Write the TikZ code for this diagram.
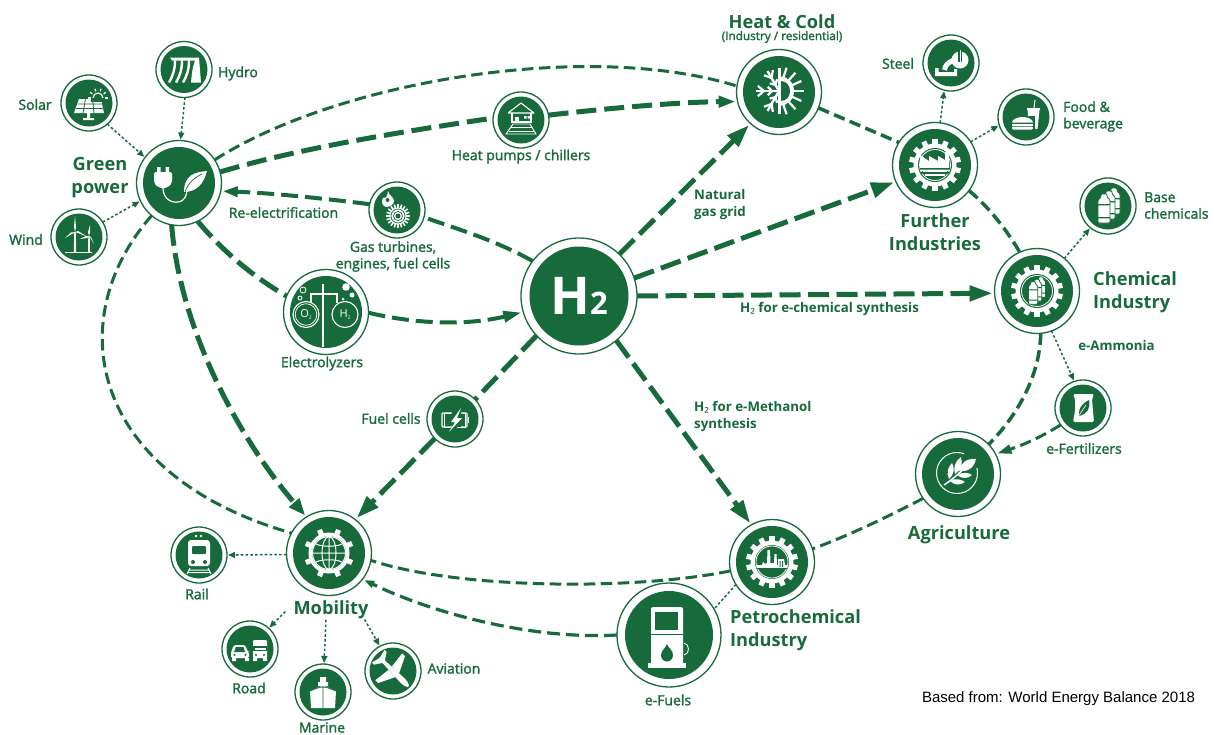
\documentclass[tikz,border=0pt]{standalone}
\usepackage{fontspec}
\usetikzlibrary{arrows.meta}
\setmainfont{Open Sans}
\newfontfamily\lblfont[FakeBold=1.8]{Open Sans}
\newfontfamily\subfont{Noto Sans}
\newfontfamily\arialfont{Liberation Sans}
\definecolor{gn}{HTML}{176A3A}
\tikzset{
  ringbig/.style={circle,draw=gn,line width=1.3pt,fill=white,minimum size=85pt,inner sep=0pt,outer sep=0pt},
  ringsmall/.style={circle,draw=gn,line width=1.3pt,fill=white,minimum size=56pt,inner sep=0pt,outer sep=0pt},
  discbig/.style={circle,fill=gn,minimum size=72pt,inner sep=0pt},
  discsmall/.style={circle,fill=gn,minimum size=47pt,inner sep=0pt},
  small text/.style={text=gn,font=\lblfont\fontsize{14}{16.5}\selectfont,align=left,inner sep=0pt},
  mid text/.style={text=gn,font=\bfseries\fontsize{13.3}{17}\selectfont,align=left,inner sep=0pt},
  big text/.style={text=gn,font=\bfseries\fontsize{18.2}{23}\selectfont,inner sep=0pt},
  wide line/.style={draw=gn,line width=5pt,dash pattern=on 21pt off 7.5pt},
  medium wide/.style={draw=gn,line width=4pt,dash pattern=on 17pt off 7pt},
  thin line/.style={draw=gn,line width=3pt,dash pattern=on 11.5pt off 5.5pt},
  dot line/.style={draw=gn,line width=1.5pt,dash pattern=on 2.6pt off 2.2pt},
  big tip/.style={-{Triangle[length=23pt,width=15pt]},shorten >=2pt},
  low tip/.style={-{Triangle[length=10pt,width=7pt]},shorten >=2pt},
  dot tip/.style={-{Triangle[length=7pt,width=6pt]},shorten >=1pt},
  wl/.style={draw=white,line width=1.2pt},
  gl/.style={draw=gn,line width=1pt}
}
\newcommand\hubnode[3]{\node[ringbig] (#1) at (#2) {};\node[discbig] at (#1) {#3};}
\newcommand\subnode[3]{\node[ringsmall] (#1) at (#2) {};\node[discsmall] at (#1) {#3};}
\newcommand\gearicon[5]{%
  \foreach \k in {1,...,#4} {\fill[white,rotate={\k*360/#4+#5}] (-2.6,#2-1) rectangle (2.6,#1);}
  \fill[white] (0,0) circle (#2);
  \fill[gn] (0,0) circle (#3);}
\newcommand\onebottle[3]{%
  \fill[white,draw=gn,line width=.8pt,rounded corners=1pt] (#1+3,#2) -- (#1+9,#2) -- (#1+9,#2+3) -- (#1+12,#2+6) -- (#1+12,#2+#3) -- (#1,#2+#3) -- (#1,#2+6) -- (#1+3,#2+3) -- cycle;
  \fill[gn] (#1,#2+10) rectangle (#1+12,#2+11.3) (#1,#2+#3-6) rectangle (#1+12,#2+#3-4.7);}
\newcommand\bottlegroup{\onebottle{0}{-18}{26}\onebottle{-5}{-15}{28}\onebottle{-10}{-12}{29}}
\begin{document}
\begin{tikzpicture}[x=1pt,y=-1pt]
\useasboundingbox (0,0) rectangle (1214,734);
% ---------- nodes
\hubnode{gp}{179,183}{}
\subnode{hydro}{184,69.5}{}
\subnode{solar}{89,103}{}
\subnode{wind}{79,237}{}
\subnode{gt}{397,210}{}
\hubnode{el}{326,312}{}
\node[circle,draw=gn,line width=1.3pt,fill=white,minimum size=116pt,inner sep=0pt,outer sep=0pt] (h2) at (579,296) {};
\node[circle,fill=gn,minimum size=99pt,inner sep=0pt,text=white,font=\bfseries\fontsize{52}{52}\selectfont] (h2text) at (h2) {H\fontsize{31}{31}\selectfont2};
\subnode{fc}{455,419}{}
\subnode{hp}{521,120}{}
\hubnode{hc}{779,92}{}
\subnode{steel}{951,63}{}
\subnode{food}{1026,117}{}
\hubnode{fi}{935,165}{}
\subnode{base}{1108,206}{}
\hubnode{chem}{1037,291}{}
\subnode{fert}{1083,408}{}
\hubnode{agri}{958,474}{}
\hubnode{petro}{772,562}{}
\node[circle,draw=gn,line width=1.3pt,fill=white,minimum size=104pt,inner sep=0pt,outer sep=0pt] (ef) at (669,635) {};
\node[circle,fill=gn,minimum size=88pt,inner sep=0pt] at (ef) {};
\hubnode{mob}{329,553}{}
\subnode{rail}{199,555}{}
\subnode{road}{250,649}{}
\subnode{marine}{323,692}{}
\subnode{avi}{393,671}{}
% ---------- icons
% green power
\begin{scope}[shift={(179,183)}]
  \fill[white,rounded corners=2pt] (-25,-11) rectangle (-7,-1);
  \fill[white] (-25,-5) -- (-7,-5) -- (-7,-2) .. controls (-8,3) and (-11,4) .. (-14,5) -- (-18,5) .. controls (-21,4) and (-24,3) .. (-25,-2) -- cycle;
  \fill[white] (-22,-16) rectangle (-18.5,-9) (-13.5,-16) rectangle (-10,-9);
  \draw[wl] (-16,5) .. controls (-16,17) and (-6,20) .. (-1,19) .. controls (6,18) and (8,12) .. (8,6);
  \fill[white] (5,9) .. controls (5,-8) and (16,-11) .. (28,-12) .. controls (25,0) and (18,9) .. (5,9) -- cycle;
  \draw[gn,line width=.7pt] (6,9) .. controls (9,0) and (15,-5) .. (23,-9);
\end{scope}
% hydro
\begin{scope}[shift={(184,69.5)}]
  \fill[white] (-14,-12) -- (15,-12) -- (17,13) -- (7,13) .. controls (8,2) and (9,-4) .. (11,-9) -- (-12,-9) -- cycle;
  \foreach \d in {0,7,14} {\draw[white,line width=2.4pt] (-9+\d,-9) .. controls (-9+\d,0) and (-11+\d,6) .. (-15+\d,13);}
\end{scope}
% solar
\begin{scope}[shift={(89,103)}]
  \fill[white] (-10,-4) -- (12,-4) -- (15,10) -- (-15,10) -- cycle;
  \draw[gl,line width=.8pt] (-11.5,1) -- (13,1) (-13,5.5) -- (14,5.5) (-3.5,-4) -- (-6,10) (3.5,-4) -- (5,10);
  \fill[white] (-2,10) rectangle (1,15) (-6,15) rectangle (5,17);
  \draw[wl,line width=1.1pt] (9,-5) circle (5);
  \fill[gn] (2,-4.6) rectangle (16,-1);
  \foreach \a in {0,36,...,180} {\draw[white,line width=1.3pt] (9,-5) ++(\a:-7) -- ++(\a:-2.6);}
\end{scope}
% wind
\begin{scope}[shift={(79,237)}]
  \fill[white] (-14,15) rectangle (13,16);
  \fill[white] (-4.8,-5) -- (-3.2,-5) -- (-2.8,15) -- (-5.2,15) -- cycle;
  \fill[white] (-4,-5) -- (-5,-10) -- (-4,-21) -- (-3,-10) -- cycle;
  \fill[white] (-4,-5) -- (-7,-3) -- (-14,1) -- (-8,-4.5) -- cycle;
  \fill[white] (-4,-5) -- (-1,-4) -- (8,-0.5) -- (-1,-6) -- cycle;
  \fill[white] (9.3,-1) -- (10.7,-1) -- (11,15) -- (9,15) -- cycle;
  \fill[white] (10,-1) -- (11,-5) -- (11,-12) -- (9,-5) -- cycle;
  \fill[white] (10,-1) -- (7,-1) -- (1,2) -- (8,1) -- cycle;
  \fill[white] (10,-1) -- (11.5,1) -- (15,7) -- (12,0) -- cycle;
\end{scope}
% gas turbine
\begin{scope}[shift={(397,210)}]
  \fill[white] (-9,-19) .. controls (-8,-14) and (-3,-13) .. (-3,-9) .. controls (-3,-5) and (-8,-3) .. (-11,-3) .. controls (-15,-4) and (-16,-9) .. (-14,-12) .. controls (-12,-11) and (-10,-12) .. (-9,-19) -- cycle;
  \fill[gn] (-9.5,-10) circle (2);
  \foreach \k in {1,...,20} {\fill[white,rotate around={\k*18:(1,6)}] (0.2,-6) rectangle (1.8,0);}
  \fill[white] (1,6) circle (8.5);
  \draw[gn,line width=.7pt] (1,6) circle (7) (1,6) circle (4.5);
  \fill[gn] (1,6) circle (2.5);
\end{scope}
% electrolyzer
\begin{scope}[shift={(326,312)}]
  \fill[white] (-4.5,-28) rectangle (-2,35);
  \draw[wl,line width=1.4pt] (-15,-9) -- (-15,-18) -- (11,-18) -- (11,-9);
  \draw[wl,line width=1.1pt] (-20,2.5) circle (13);
  \draw[wl,line width=1.1pt] (19,2.5) circle (13);
  \draw[wl,line width=.7pt] (-20,2.5) circle (10.8);
  \node[text=white,font=\fontsize{11}{11}\selectfont,inner sep=0pt] (otext) at (-20,3) {O\raisebox{-2pt}{\fontsize{5}{5}\selectfont 2}};
  \node[text=white,font=\fontsize{11}{11}\selectfont,inner sep=0pt] (htext) at (19,3) {H\raisebox{-2pt}{\fontsize{5}{5}\selectfont 2}};
  \draw[wl,line width=.8pt] (-23,-22) circle (3) (-26,-14) circle (2);
  \fill[white] (20,-25) circle (3.8) (26,-17) circle (2.5) (17,-13) circle (1.5);
\end{scope}
% fuel cell
\begin{scope}[shift={(455,419)}]
  \draw[wl,line width=1.2pt,rounded corners=1pt] (-13,-6) rectangle (12,8);
  \fill[white] (12.5,-2) rectangle (14,4);
  \fill[gn] (-3,-9) rectangle (6,11);
  \fill[white] (6,-11) -- (-4,3) -- (0,3) -- (-6,13) -- (7,-1) -- (2,-1) -- cycle;
  \draw[wl,line width=1pt] (-4,-6) -- (-11,-6) (-11,-6) -- (-11,8) -- (-5,8) (8,-6) -- (10,-6) -- (10,8) -- (2,8);
\end{scope}
% heat pump
\begin{scope}[shift={(521,120)}]
  \draw[wl,line width=1.1pt,line join=round] (-13,-7) -- (0,-17) -- (13,-7) -- (-13,-7);
  \draw[wl,line width=1.1pt] (-9,-7) -- (-9,2) -- (10,2) -- (10,-7);
  \fill[white] (-6,-3) rectangle (-2,2);
  \fill[white] (3,-4) rectangle (5.5,-1.5) (6.5,-4) rectangle (9,-1.5);
  \draw[wl,line width=.9pt] (-8,4) -- (9,4) -- (15,14) -- (-15,14) -- cycle;
  \draw[wl,line width=.8pt] (-10,7.5) -- (11,7.5) (-12,11) -- (13,11);
\end{scope}
% heat and cold
\begin{scope}[shift={(779,91)}]
  \fill[white] (1.5,-14.5) -- (1.5,14.5) .. controls (9,14.5) and (15,8) .. (15,0) .. controls (15,-8) and (9,-14.5) .. (1.5,-14.5) -- cycle;
  \fill[gn] (1.5,-10) -- (1.5,10) .. controls (7,10) and (11,6) .. (11,0) .. controls (11,-6) and (7,-10) .. (1.5,-10) -- cycle;
  \foreach \a in {-72,-48,-24,0,24,48,72} {\draw[white,line width=2.2pt] (\a:14) -- (\a:24.5);}
  \foreach \a in {120,180,240} {
    \draw[white,line width=2.4pt] (0,0) -- (\a:23);
    \draw[white,line width=2.2pt] (\a:15) -- ++(\a-40:8) (\a:15) -- ++(\a+40:8);
    \draw[white,line width=2.2pt] (\a:7) -- ++(\a-45:6) (\a:7) -- ++(\a+45:6);}
  \fill[white] (-1.5,-23) rectangle (1.5,23);
\end{scope}
% steel
\begin{scope}[shift={(951,63)}]
  \fill[white] (9,-3) circle (8.5);
  \fill[gn] (7.2,-13) rectangle (11,-1);
  \fill[white] (8.5,-13) rectangle (9.7,1.5);
  \draw[white,line width=5pt] (-6.5,7) .. controls (-6,2) and (-2,-1) .. (2,-2.5);
  \fill[white] (-16,5) -- (-12.5,5) -- (-12.5,9) -- (3,9) -- (3,6) -- (6,6) -- (6,13) -- (-16,13) -- cycle;
\end{scope}
% food
\begin{scope}[shift={(1026,117)}]
  \fill[white] (1.5,-7) -- (13.5,-7) -- (11.5,12) -- (3,12) -- cycle;
  \fill[white] (0.5,-9.5) rectangle (14,-7.5);
  \draw[white,line width=1pt] (8,-9) -- (9,-17);
  \fill[gn] (-16,-1) rectangle (9,14);
  \fill[white] (-14,5.5) .. controls (-14,2) and (-8,0) .. (-3.5,0) .. controls (1,0) and (7,2) .. (7,5.5) -- cycle;
  \fill[white] (-14,6.5) rectangle (7,8.5);
  \fill[white,rounded corners=1.2pt] (-14,9.5) rectangle (7,12.5);
\end{scope}
% further industries
\begin{scope}[shift={(935,165)}]
  \gearicon{26}{21.5}{17}{14}{0}
  \draw[white,line width=.8pt] (0,0) circle (15.5);
  \fill[white] (-15,-2) -- (-15,-10) -- (-6,-4) -- (-6,-9) -- (3,-4) -- (3,-9) -- (10,-5) -- (10,-13) -- (14,-13) -- (14,6) -- (-15,6) -- cycle;
  \fill[gn] (-15,3) rectangle (15,4.5) (-15,7.2) rectangle (15,8.5);
  \fill[white] (-12,5) rectangle (12,7);
  \fill[white] (-10,9) rectangle (10,11);
\end{scope}
% chemical
\begin{scope}[shift={(1037,291)}]
  \gearicon{26}{21.5}{17}{14}{0}
  \draw[white,line width=.8pt] (0,0) circle (15.5);
  \begin{scope}[scale=.78,xshift=-1pt]\bottlegroup\end{scope}
\end{scope}
% base chemicals
\begin{scope}[shift={(1108,206)}]\bottlegroup\end{scope}
% fertilizer
\begin{scope}[shift={(1083,408)}]
  \fill[white,rounded corners=1.5pt] (-10,-14) -- (11,-14) -- (9,-9) -- (10,3) -- (11,14) -- (-10,14) -- (-8,3) -- (-8,-9) -- cycle;
  \fill[gn] (-4,8) .. controls (-5,-2) and (2,-6) .. (6,-8) .. controls (8,0) and (4,6) .. (-4,8) -- cycle;
  \draw[wl,line width=.6pt] (-5,9) -- (3,-3);
\end{scope}
% agriculture
\begin{scope}[shift={(957,473)}]
  \draw[wl,line width=1pt] (0,0) circle (20.5);
  \fill[gn] (7,-23) rectangle (24,-5);
  \draw[wl,line width=1.5pt] (-13,12) .. controls (-4,6) and (4,-1) .. (10,-8);
  \fill[white] (2,-2) .. controls (3,-10) and (10,-15) .. (19,-14) .. controls (17,-5) and (11,-1) .. (2,-2) -- cycle;
  \fill[white] (-2,1) .. controls (-4,-5) and (-2,-12) .. (4,-16) .. controls (6,-9) and (4,-3) .. (-2,1) -- cycle;
  \fill[white] (-8,6) .. controls (-11,0) and (-9,-6) .. (-5,-10) .. controls (-2,-5) and (-3,2) .. (-8,6) -- cycle;
  \fill[white] (0,2) .. controls (5,-1) and (11,-1) .. (15,2) .. controls (11,6) and (5,6) .. (0,2) -- cycle;
  \fill[white] (-7,8) .. controls (-2,5) and (4,6) .. (8,9) .. controls (3,13) and (-3,12) .. (-7,8) -- cycle;
\end{scope}
% petrochemical
\begin{scope}[shift={(772,562)}]
  \gearicon{26}{21.5}{17}{14}{0}
  \draw[white,line width=.8pt] (0,0) circle (16);
  \fill[white] (-15,3) -- (-10,3) -- (-9,0) -- (-7,2) -- (-5,1) -- (-4.5,-12) -- (-2,-12) -- (-1.5,1) -- (2,1) -- (2.5,-8) -- (4.5,-8) -- (5,3) -- (6,3) -- (6,-3) -- (12,-3) -- (13,3) -- (15.5,3) -- (15,6) -- (-15,6) -- cycle;
  \fill[gn] (7.5,-1) rectangle (8.5,5) (10,-1) rectangle (11,5) (-15,6) rectangle (15,7);
\end{scope}
% e-fuels
\begin{scope}[shift={(669,635)}]
  \fill[white,rounded corners=2pt] (-18,-28) rectangle (14,30);
  \fill[white] (-21,28) rectangle (17,33);
  \fill[gn] (-14,-23) rectangle (9,-5);
  \fill[gn] (-18,-1.5) rectangle (14,0);
  \fill[gn] (-2,9) .. controls (-3,13) and (-8,15) .. (-8,20) .. controls (-8,24) and (-5,26.5) .. (-2,26.5) .. controls (1,26.5) and (4,24) .. (4,20) .. controls (4,15) and (-1,13) .. (-2,9) -- cycle;
  \draw[wl,line width=.9pt] (15,8) .. controls (21,9) and (21,19) .. (15,20);
\end{scope}
% mobility
\begin{scope}[shift={(329,553)}]
  \gearicon{25}{20.5}{17}{8}{22.5}
  \draw[wl,line width=1pt] (0,0) circle (16.5);
  \draw[wl,line width=1pt] (0,0) ellipse (7 and 16.5) (0,-16.5) -- (0,16.5) (-16.5,0) -- (16.5,0);
  \draw[wl,line width=1pt] (-13,-9) .. controls (-7,-6) and (7,-6) .. (13,-9) (-13,9) .. controls (-7,6) and (7,6) .. (13,9);
\end{scope}
% rail
\begin{scope}[shift={(199,555)}]
  \fill[white,rounded corners=3pt] (-11,-15) rectangle (11,11);
  \fill[gn,rounded corners=1pt] (-7,-9) rectangle (7,-1);
  \fill[gn] (-6,7) circle (2) (6,7) circle (2);
  \fill[white] (-3,-19) circle (1.3) (2,-19) circle (1.3);
  \draw[white,line width=1pt] (-9,13) -- (-12,19) (9,13) -- (12,19) (-10,15) -- (10,15) (-11,17.5) -- (11,17.5);
\end{scope}
% road
\begin{scope}[shift={(250,649)}]
  \fill[white,rounded corners=1.5pt] (-16,-4) -- (-5,-4) -- (-2,3) -- (-1,3) -- (-1,9) -- (-19,9) -- (-19,3) -- cycle;
  \fill[gn] (-14,-2) -- (-6.5,-2) -- (-5,3) -- (-16,3) -- cycle;
  \fill[white] (-18,9) rectangle (-14,12) (-5,9) rectangle (-1,12);
  \fill[gn] (-15.5,6) circle (1.2) (-4.5,6) circle (1.2);
  \fill[white,rounded corners=1pt] (3,-9) rectangle (17,9);
  \fill[gn] (3,-3) rectangle (17,1.5);
  \fill[white] (4.5,-1) rectangle (15.5,1);
  \fill[white] (3,9) rectangle (7,12) (13,9) rectangle (17,12);
  \fill[gn] (6,6) circle (1.2) (14,6) circle (1.2);
\end{scope}
% marine
\begin{scope}[shift={(323,692)}]
  \fill[white] (-3,-15) rectangle (3,-9) (-5,-10) rectangle (5,-6);
  \fill[white] (-13,-1) .. controls (-6,-4) and (-3,-6) .. (0,-6) .. controls (3,-6) and (6,-4) .. (13,-1) -- (12,16) -- (-12,16) -- cycle;
  \draw[gn,line width=.8pt] (0,-6) -- (0,16) (-13,-1) .. controls (-6,-4) and (-3,-5) .. (0,-5) .. controls (3,-5) and (6,-4) .. (13,-1);
\end{scope}
% aviation
\begin{scope}[shift={(393,671)},rotate=-45]
  \fill[white] (-19,-1.5) -- (14,-3) .. controls (19,-3) and (22,-1) .. (22,0) .. controls (22,1) and (19,3) .. (14,3) -- (-19,1.5) -- cycle;
  \fill[white] (6,-2.5) -- (-2,-19) -- (-6,-19) -- (-4,-2.5) -- cycle;
  \fill[white] (6,2.5) -- (-2,19) -- (-6,19) -- (-4,2.5) -- cycle;
  \fill[white] (-13,-1.5) -- (-18,-9) -- (-21,-9) -- (-19,-1.5) -- cycle;
  \fill[white] (-13,1.5) -- (-18,9) -- (-21,9) -- (-19,1.5) -- cycle;
\end{scope}
% ---------- connectors
\draw[thin line] (gp.33) .. controls (340,80) and (590,40) .. (hc.172);
\draw[wide line,dash pattern=on 20pt off 8pt] (gp.15) .. controls (300,148) and (400,132) .. (hp.176);
\draw[wide line,-{Triangle[length=17pt,width=11pt]},dash pattern=on 20pt off 8pt,shorten >=2pt] (hp.10) .. controls (610,108) and (680,102) .. (hc.193);
\draw[medium wide] (h2.143) .. controls (495,240) and (460,230) .. (gt.-15);
\draw[medium wide,-{Triangle[length=15pt,width=10pt]},shorten >=2pt] (gt.168) .. controls (320,198) and (270,193) .. (gp.-11);
\draw[wide line] (gp.-64) .. controls (220,248) and (250,275) .. (el.158);
\draw[medium wide,-{Triangle[length=18pt,width=11pt]},shorten >=2pt] (el.-1) .. controls (420,325) and (470,325) .. (h2.196);
\draw[wide line,-{Triangle[length=17pt,width=13pt]},shorten >=2pt] (gp.-100) .. controls (180,330) and (240,440) .. (mob.122);
\draw[thin line] (gp.230) .. controls (60,320) and (90,475) .. (mob.152);
\draw[wide line,big tip] (h2.46) -- (hc.228);
\draw[wide line,big tip] (h2.18) -- (fi.203);
\draw[wide line,big tip] (h2.0) -- (chem.183);
\draw[wide line] (h2.223) -- (fc.44);
\draw[wide line,big tip] (fc.224) -- (mob.52);
\draw[wide line,big tip] (h2.-50) -- (petro.119);
\draw[thin line,line width=3.5pt] (hc.-22) -- (fi.148);
\draw[thin line,line width=3.5pt] (fi.-37) .. controls (990,208) and (1008,232) .. (chem.114);
\draw[thin line,line width=3.5pt] (chem.-85) .. controls (1040,375) and (1018,415) .. (agri.44);
\draw[thin line,-{Triangle[length=14pt,width=9pt]},shorten >=2pt] (fert.217) .. controls (1040,438) and (1020,446) .. (agri.28);
\draw[thin line] (agri.215) .. controls (885,518) and (850,535) .. (petro.18);
\draw[thin line] (petro.192) .. controls (640,590) and (460,590) .. (mob.-10);
\draw[thin line,low tip,line width=3.2pt,dash pattern=on 13pt off 6pt] (ef.180) .. controls (530,640) and (430,612) .. (mob.-38);
\draw[dot line] (petro.212) -- (ef.30);
\draw[dot line,dot tip] (hydro.-88) -- (gp.88);
\draw[dot line,dot tip] (solar.-49) -- (gp.143);
\draw[dot line,dot tip] (wind.32) -- (gp.205);
\draw[dot line,dot tip] (fi.83) -- (steel.256);
\draw[dot line,dot tip] (fi.33) -- (food.197);
\draw[dot line,dot tip] (chem.50) -- (base.231);
\draw[dot line,dot tip] (chem.-70) -- (fert.108);
\draw[dot line,dot tip] (mob.182) -- (rail.0);
% ---------- labels
\node[big text,align=center] (gptext) at (100,177.5) {Green\\power};
\node[small text] (hydrol) at (238,73.5) {Hydro};
\node[small text] (solarl) at (35,104.5) {Solar};
\node[small text] (windl) at (26,239.5) {Wind};
\node[small text] (rel) at (283.5,212.5) {Re-electrification};
\node[small text,align=center] (gtl) at (393,256.5) {Gas turbines,\\engines, fuel cells};
\node[small text] (ell) at (322,363.5) {Electrolyzers};
\node[small text] (hpl) at (521,156.5) {Heat pumps / chillers};
\node[big text] (hcl) at (782,21.5) {Heat \& Cold};
\node[small text,font=\lblfont\fontsize{11.8}{13}\selectfont] (hcs) at (782,37) {(Industry / residential)};
\node[mid text,anchor=west] (ngl) at (694,205) {Natural\\gas grid};
\node[small text] (steell) at (898,63.5) {Steel};
\node[small text,anchor=west] (foodl) at (1063,116.5) {Food \&\\beverage};
\node[big text,align=center] (fil) at (935,232) {Further\\Industries};
\node[small text,anchor=west] (basel) at (1144,205.5) {Base\\chemicals};
\node[big text,align=left,anchor=west] (chl) at (1093,292.5) {Chemical\\Industry};
\node[mid text] (chsyn) at (829.5,309.5) {H{\subfont\bfseries ₂} for e-chemical synthesis};
\node[mid text] (eam) at (1116.5,345.5) {e-Ammonia};
\node[small text] (fertl) at (1084,448.5) {e-Fertilizers};
\node[mid text,anchor=west] (meth) at (694,417) {H{\subfont\bfseries ₂} for e-Methanol\\synthesis};
\node[small text] (fcl) at (391,418.5) {Fuel cells};
\node[big text] (agl) at (959,535) {Agriculture};
\node[big text,align=left,anchor=west] (pel) at (730,630.5) {Petrochemical\\Industry};
\node[small text] (efl) at (668,700) {e-Fuels};
\node[big text] (mobl) at (331,609.5) {Mobility};
\node[small text] (raill) at (197,594) {Rail};
\node[small text] (roadl) at (249,688) {Road};
\node[small text] (marl) at (322,727.5) {Marine};
\node[small text] (avil) at (454,668.5) {Aviation};
\node[font=\arialfont\fontsize{15}{16}\selectfont,inner sep=0pt] (src) at (1058.5,699) {Based from: World Energy Balance 2018};
% connectors leaving the Mobility label
\draw[dot line,dot tip] (mobl.west) ++(-8,2) coordinate (mr) -- (road.48);
\draw[dot line,dot tip] (mobl.south) ++(-5,1) coordinate (mm) -- (marine.88);
\draw[dot line,dot tip] (mobl.east) ++(-4,10) coordinate (ma) -- (avi.118);
\end{tikzpicture}
\end{document}
